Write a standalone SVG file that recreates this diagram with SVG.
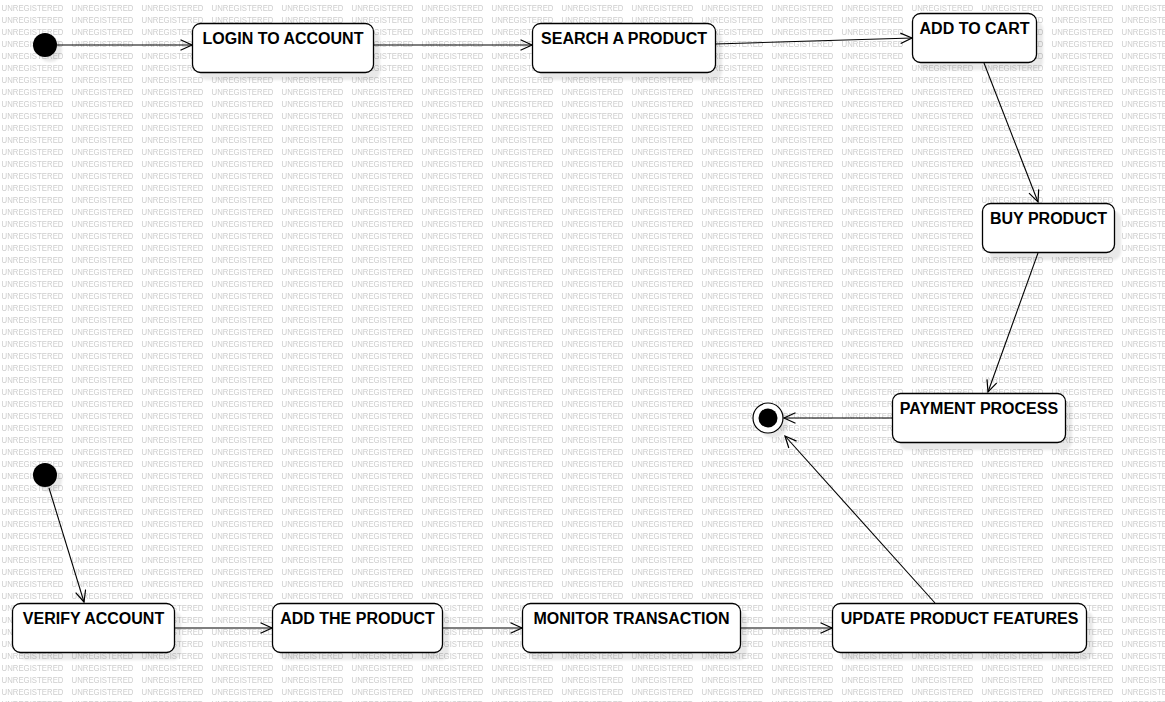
<svg xmlns="http://www.w3.org/2000/svg" width="1165" height="702" viewBox="0 0 1165 702">
<style>
.box{fill:#fff;stroke:#000;stroke-width:1.3}
.shadow{fill:#000;fill-opacity:0.085}
.lbl{font-family:"Liberation Sans",Arial,sans-serif;font-size:16px;font-weight:bold;fill:#000;text-anchor:middle}
.wm{font-family:"Liberation Sans",Arial,sans-serif;font-size:8.4px;fill:#cdcdcd}
.edge{fill:none;stroke:#000;stroke-width:1.1}
</style>
<defs>
<pattern id="wmark" x="0" y="0" width="70" height="12" patternUnits="userSpaceOnUse">
<text class="wm" x="1.5" y="11" textLength="62" lengthAdjust="spacingAndGlyphs">UNREGISTERED</text>
</pattern>
<marker id="arr" markerWidth="14" markerHeight="12" refX="12" refY="6" orient="auto" markerUnits="userSpaceOnUse">
<path d="M0.5,0.8 L12,6 L0.5,11.2" fill="none" stroke="#000" stroke-width="1.2"/>
</marker>
<filter id="blur" x="-10%" y="-10%" width="120%" height="120%"><feGaussianBlur stdDeviation="1.2"/></filter>
</defs>
<rect x="0" y="0" width="1165" height="702" fill="#fff"/>
<rect x="0" y="0" width="1165" height="702" fill="url(#wmark)"/>

<g id="connectors">
<line class="edge" x1="57" y1="45" x2="192" y2="45" marker-end="url(#arr)"/>
<line class="edge" x1="373" y1="45" x2="532" y2="45" marker-end="url(#arr)"/>
<line class="edge" x1="715" y1="44" x2="912" y2="38" marker-end="url(#arr)"/>
<line class="edge" x1="984" y1="63" x2="1038" y2="202" marker-end="url(#arr)"/>
<line class="edge" x1="1038" y1="253" x2="988" y2="392" marker-end="url(#arr)"/>
<line class="edge" x1="892" y1="418" x2="784" y2="418" marker-end="url(#arr)"/>
<line class="edge" x1="935" y1="603" x2="785" y2="436" marker-end="url(#arr)"/>
<line class="edge" x1="49" y1="488" x2="84" y2="602" marker-end="url(#arr)"/>
<line class="edge" x1="174" y1="628" x2="272" y2="628" marker-end="url(#arr)"/>
<line class="edge" x1="442" y1="628" x2="522" y2="628" marker-end="url(#arr)"/>
<line class="edge" x1="740" y1="628" x2="832" y2="628" marker-end="url(#arr)"/>
</g>

<g id="start1">
<circle cx="50" cy="50" r="12" class="shadow" filter="url(#blur)"/>
<circle cx="45" cy="45" r="12" fill="#000"/>
</g>
<g id="start2">
<circle cx="50" cy="480" r="12" class="shadow" filter="url(#blur)"/>
<circle cx="45" cy="475" r="12" fill="#000"/>
</g>
<g id="end">
<circle cx="773" cy="423" r="15" class="shadow" filter="url(#blur)"/>
<circle cx="768" cy="418" r="15" fill="#fff" stroke="#000" stroke-width="1.2"/>
<circle cx="768" cy="418" r="9.5" fill="#000"/>
</g>

<g id="login">
<rect class="shadow" x="199" y="31" width="181" height="49" rx="8" filter="url(#blur)"/>
<rect class="box" x="192.5" y="23.5" width="181" height="49" rx="8"/>
<text class="lbl" x="283" y="44">LOGIN TO ACCOUNT</text>
</g>
<g id="search">
<rect class="shadow" x="539" y="31" width="183" height="49" rx="8" filter="url(#blur)"/>
<rect class="box" x="532.5" y="23.5" width="183" height="49" rx="8"/>
<text class="lbl" x="624" y="44">SEARCH A PRODUCT</text>
</g>
<g id="addtocart">
<rect class="shadow" x="919" y="21" width="124" height="49" rx="8" filter="url(#blur)"/>
<rect class="box" x="912.5" y="13.5" width="124" height="49" rx="8"/>
<text class="lbl" x="974.5" y="34">ADD TO CART</text>
</g>
<g id="buy">
<rect class="shadow" x="989" y="211" width="132" height="49" rx="8" filter="url(#blur)"/>
<rect class="box" x="982.5" y="203.5" width="132" height="49" rx="8"/>
<text class="lbl" x="1048.5" y="224">BUY PRODUCT</text>
</g>
<g id="payment">
<rect class="shadow" x="899" y="401" width="173" height="49" rx="8" filter="url(#blur)"/>
<rect class="box" x="892.5" y="393.5" width="173" height="49" rx="8"/>
<text class="lbl" x="979" y="414">PAYMENT PROCESS</text>
</g>
<g id="verify">
<rect class="shadow" x="19" y="611" width="162" height="49" rx="8" filter="url(#blur)"/>
<rect class="box" x="12.5" y="603.5" width="162" height="49" rx="8"/>
<text class="lbl" x="93.5" y="624">VERIFY ACCOUNT</text>
</g>
<g id="addproduct">
<rect class="shadow" x="279" y="611" width="170" height="49" rx="8" filter="url(#blur)"/>
<rect class="box" x="272.5" y="603.5" width="170" height="49" rx="8"/>
<text class="lbl" x="357.5" y="624">ADD THE PRODUCT</text>
</g>
<g id="monitor">
<rect class="shadow" x="529" y="611" width="218" height="49" rx="8" filter="url(#blur)"/>
<rect class="box" x="522.5" y="603.5" width="218" height="49" rx="8"/>
<text class="lbl" x="631.5" y="624">MONITOR TRANSACTION</text>
</g>
<g id="update">
<rect class="shadow" x="839" y="611" width="254" height="49" rx="8" filter="url(#blur)"/>
<rect class="box" x="832.5" y="603.5" width="254" height="49" rx="8"/>
<text class="lbl" x="959.5" y="624">UPDATE PRODUCT FEATURES</text>
</g>
</svg>
